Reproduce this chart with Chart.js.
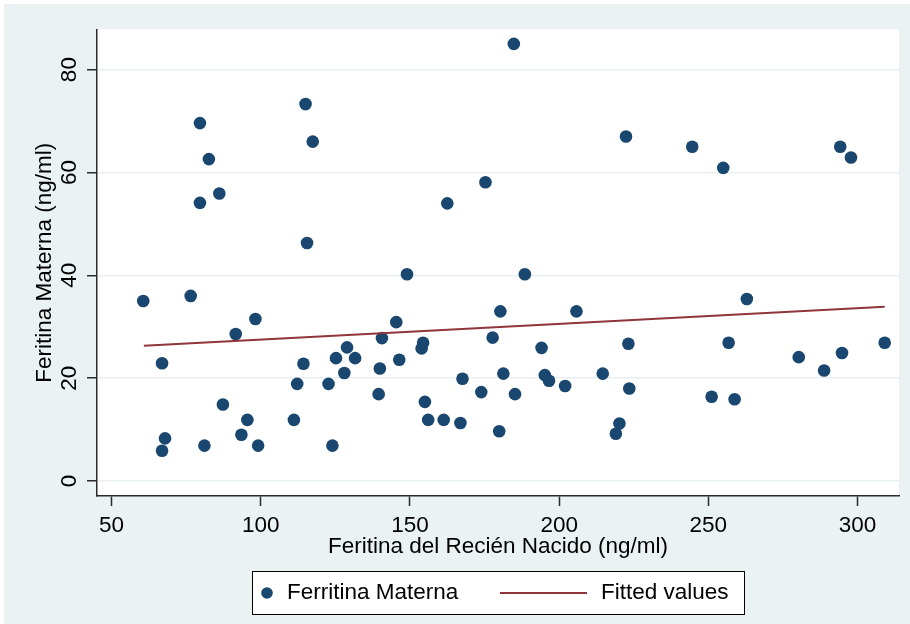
<!DOCTYPE html>
<html>
<head>
<meta charset="utf-8">
<title>Ferritina Materna vs Recién Nacido</title>
<script src="https://cdn.jsdelivr.net/npm/chart.js@4.4.1/dist/chart.umd.min.js"></script>
<style>
  html, body { margin: 0; padding: 0; background: #fff; }
  #chart { display: block; }
</style>
</head>
<body>
<canvas id="chart" width="910" height="624"></canvas>
<script>
// ferritina del recien nacido (x) y materna (y)
const recienNacido = [
    115.0, 79.6, 117.4, 82.6, 86.1, 79.6, 115.5,
    60.6, 76.5, 98.2, 91.6, 66.9, 114.3, 128.9, 125.2, 131.6, 128.0, 140.6, 145.4, 139.9,
    146.4, 112.2, 122.7, 139.5, 87.3, 95.5, 111.1, 93.5, 67.9, 66.9, 81.1, 99.1, 124.0,
    184.8, 222.4, 244.6, 175.3, 162.5,
    149.0, 188.5, 180.3, 205.8, 177.7, 154.4, 153.9, 194.1, 223.2, 167.6, 181.3, 195.2,
    196.6, 202.0, 214.6, 223.5, 173.9, 185.2, 155.0, 156.1, 161.3, 166.9, 179.9, 220.2, 219.0,
    255.0, 294.2, 297.8, 262.9, 256.8, 309.1, 280.3, 294.8, 288.8, 251.1, 258.8
];
const materna = [
    73.3, 69.6, 66.0, 62.6, 55.9, 54.1, 46.3,
    35.0, 36.0, 31.5, 28.6, 22.9, 22.8, 26.0, 23.9, 23.9, 21.0, 27.8, 30.9, 21.9,
    23.6, 18.9, 18.9, 16.9, 14.9, 11.9, 11.9, 9.0, 8.3, 5.9, 6.9, 6.9, 6.9,
    85.0, 67.0, 65.0, 58.1, 54.0,
    40.2, 40.2, 33.0, 33.0, 27.9, 26.9, 25.8, 25.9, 26.7, 19.9, 20.9, 20.6,
    19.5, 18.5, 20.9, 18.0, 17.3, 16.9, 15.4, 11.9, 11.9, 11.3, 9.7, 11.2, 9.2,
    60.9, 65.0, 62.9, 35.4, 26.9, 26.9, 24.1, 24.9, 21.5, 16.4, 15.9
];

// recta ajustada (extremos)
const fitX = [60.8, 309.1];
const fitY = [26.3, 33.9];

const xTicks = [50, 100, 150, 200, 250, 300];
const yTicks = [0, 20, 40, 60, 80];

const seriesNames = ["Ferritina Materna", "Fitted values"];
const xTitle = "Feritina del Recién Nacido (ng/ml)";
const yTitle = "Feritina Materna (ng/ml)";

const FONT = '"Liberation Sans", Arial, sans-serif';
const FONT_SIZE = 22.5;
const NAVY = "#1a476f";
const MAROON = "#90353b";
const BG = "#eaf2f3";
const AXIS = "#2b2b2b";

const points = recienNacido.map((x, i) => ({ x: x, y: materna[i] }));
const fitLine = fitX.map((x, i) => ({ x: x, y: fitY[i] }));

const backgroundPlugin = {
    id: "background",
    beforeDraw(chart) {
        const ctx = chart.ctx;
        const a = chart.chartArea;
        ctx.save();
        ctx.fillStyle = "#fff";
        ctx.fillRect(0, 0, chart.width, chart.height);
        ctx.fillStyle = BG;
        ctx.fillRect(4, 4, chart.width - 4, chart.height - 4);
        ctx.fillStyle = "#fff";
        ctx.fillRect(a.left, a.top, a.right - a.left, a.bottom - a.top);
        ctx.restore();
    }
};

// y tick labels are drawn rotated, like in Stata
const yLabelsPlugin = {
    id: "yLabels",
    afterDraw(chart) {
        const ctx = chart.ctx;
        const scale = chart.scales.y;
        ctx.save();
        ctx.fillStyle = "#000";
        ctx.font = FONT_SIZE + "px " + FONT;
        ctx.textAlign = "center";
        ctx.textBaseline = "middle";
        scale.ticks.forEach(t => {
            const y = scale.getPixelForValue(t.value);
            ctx.save();
            ctx.translate(70, y);
            ctx.rotate(-Math.PI / 2);
            ctx.fillText(String(t.value), 0, 0);
            ctx.restore();
        });
        ctx.restore();
    }
};

const legendPlugin = {
    id: "boxLegend",
    afterDraw(chart) {
        const ctx = chart.ctx;
        const a = chart.chartArea;
        const w = 492, h = 43;
        const left = Math.round((a.left + a.right) / 2 - w / 2) + 0.5;
        const top = 571.5;
        const cy = top + h / 2;

        ctx.save();
        ctx.fillStyle = "#fff";
        ctx.fillRect(left, top, w, h);
        ctx.strokeStyle = "#000";
        ctx.lineWidth = 1;
        ctx.strokeRect(left, top, w, h);

        ctx.fillStyle = NAVY;
        ctx.beginPath();
        ctx.arc(left + 14.5, cy, 5.8, 0, Math.PI * 2);
        ctx.fill();

        ctx.strokeStyle = MAROON;
        ctx.lineWidth = 2;
        ctx.beginPath();
        ctx.moveTo(left + 247.5, cy);
        ctx.lineTo(left + 334.5, cy);
        ctx.stroke();

        ctx.fillStyle = "#000";
        ctx.font = FONT_SIZE + "px " + FONT;
        ctx.textAlign = "left";
        ctx.textBaseline = "middle";
        ctx.fillText(seriesNames[0], left + 34.5, cy);
        ctx.fillText(seriesNames[1], left + 348.5, cy);
        ctx.restore();
    }
};

new Chart(document.getElementById("chart"), {
    type: "scatter",
    data: {
        datasets: [
            {
                label: seriesNames[0],
                data: points,
                backgroundColor: NAVY,
                borderColor: NAVY,
                borderWidth: 0,
                pointRadius: 6.3,
                order: 1
            },
            {
                label: seriesNames[1],
                data: fitLine,
                showLine: true,
                borderColor: MAROON,
                borderWidth: 2,
                pointRadius: 0,
                fill: false,
                order: 0
            }
        ]
    },
    options: {
        responsive: false,
        animation: false,
        devicePixelRatio: 1,
        layout: { padding: { left: 0, right: 11, top: 29.5, bottom: 58 } },
        plugins: {
            legend: { display: false },
            tooltip: { enabled: false }
        },
        scales: {
            x: {
                type: "linear",
                min: 45.1,
                max: 313.9,
                afterBuildTicks(scale) {
                    scale.ticks = xTicks.map(v => ({ value: v }));
                },
                afterFit(scale) {
                    scale.height = 70;
                },
                grid: {
                    drawOnChartArea: false,
                    drawTicks: true,
                    tickLength: 10,
                    tickColor: AXIS,
                    tickWidth: 1.5
                },
                border: { display: true, color: AXIS, width: 1.5 },
                ticks: {
                    color: "#000",
                    padding: 6,
                    maxRotation: 0,
                    autoSkip: false,
                    font: { family: FONT, size: FONT_SIZE }
                },
                title: {
                    display: true,
                    text: xTitle,
                    color: "#000",
                    padding: { top: 0, bottom: 5.5 },
                    font: { family: FONT, size: FONT_SIZE }
                }
            },
            y: {
                type: "linear",
                min: -2.9,
                max: 87.8,
                afterBuildTicks(scale) {
                    scale.ticks = yTicks.map(v => ({ value: v }));
                },
                afterFit(scale) {
                    scale.width = 97;
                },
                grid: {
                    color: "#e8eff2",
                    lineWidth: 1.5,
                    drawTicks: true,
                    tickLength: 10,
                    tickColor: AXIS,
                    tickWidth: 1.5
                },
                border: { display: true, color: AXIS, width: 1.5 },
                ticks: { display: false },
                title: {
                    display: true,
                    text: yTitle,
                    color: "#000",
                    padding: { top: 31.5, bottom: 0 },
                    font: { family: FONT, size: FONT_SIZE }
                }
            }
        }
    },
    plugins: [backgroundPlugin, yLabelsPlugin, legendPlugin]
});
</script>
</body>
</html>
